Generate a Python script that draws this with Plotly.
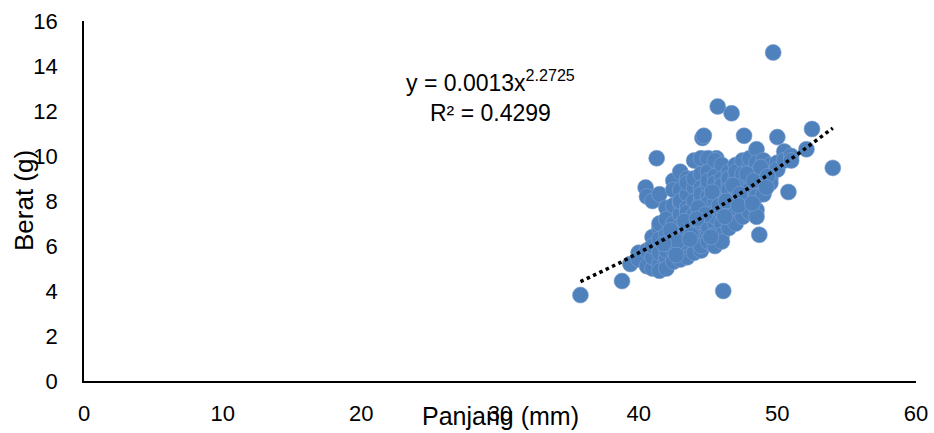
import plotly.graph_objects as go
import numpy as np

# Panjang (mm) and Berat (g)
panjang = [
    35.8, 38.8, 46.1, 49.7, 45.7, 46.7, 52.5, 54.0, 50.0, 47.6, 44.6, 44.7, 41.3, 50.8, 48.7, 39.4, 40.5, 45.6, 52.1,
    40.0, 40.0,
    40.6, 40.6, 40.6,
    41.0, 41.0, 41.0, 41.0, 41.0,
    41.5, 41.5, 41.5, 41.5, 41.5, 41.5, 41.5,
    42.0, 42.0, 42.0, 42.0, 42.0, 42.0, 42.0,
    42.5, 42.5, 42.5, 42.5, 42.5, 42.5, 42.5, 42.5,
    43.0, 43.0, 43.0, 43.0, 43.0, 43.0, 43.0, 43.0, 43.0,
    43.5, 43.5, 43.5, 43.5, 43.5, 43.5, 43.5, 43.5, 43.5,
    44.0, 44.0, 44.0, 44.0, 44.0, 44.0, 44.0, 44.0, 44.0,
    44.5, 44.5, 44.5, 44.5, 44.5, 44.5, 44.5, 44.5, 44.5, 44.5,
    45.0, 45.0, 45.0, 45.0, 45.0, 45.0, 45.0, 45.0, 45.0, 45.0, 45.0,
    45.5, 45.5, 45.5, 45.5, 45.5, 45.5, 45.5, 45.5, 45.5, 45.5,
    46.0, 46.0, 46.0, 46.0, 46.0, 46.0, 46.0, 46.0, 46.0, 46.0,
    46.5, 46.5, 46.5, 46.5, 46.5, 46.5, 46.5, 46.5,
    47.0, 47.0, 47.0, 47.0, 47.0, 47.0, 47.0,
    47.5, 47.5, 47.5, 47.5, 47.5, 47.5,
    48.0, 48.0, 48.0, 48.0, 48.0, 48.0,
    48.5, 48.5, 48.5, 48.5, 48.5, 48.5, 48.5,
    49.0, 49.0, 49.0, 49.0,
    49.5, 49.5, 49.5,
    50.0, 50.0,
    50.5, 50.5,
    51.0, 51.0,
    42.3, 42.8, 43.3, 43.8, 44.3, 44.8, 45.3, 45.8, 46.3, 46.8, 47.3, 47.8, 48.3, 48.8, 49.3,
    41.8, 42.7, 43.7, 44.2, 45.2, 46.2, 47.2, 48.2, 49.2,
]
berat = [
    3.82, 4.44, 4.0, 14.6, 12.2, 11.9, 11.2, 9.47, 10.84, 10.9, 10.8, 10.9, 9.9, 8.4, 6.5, 5.2, 8.6, 9.9, 10.3,
    5.7, 5.4,
    8.2, 5.8, 5.1,
    6.4, 5.0, 5.5, 6.0, 8.0,
    8.3, 6.8, 6.3, 5.2, 4.9, 5.7, 7.0,
    7.7, 7.2, 6.5, 6.0, 5.5, 5.0, 5.8,
    8.9, 7.8, 7.0, 6.4, 5.8, 5.3, 6.0, 8.5,
    9.3, 8.5, 7.9, 7.4, 6.9, 6.3, 5.7, 5.4, 8.0,
    9.0, 8.3, 7.7, 7.1, 6.6, 6.0, 5.5, 8.8, 7.5,
    9.8, 8.6, 8.0, 7.4, 6.8, 6.2, 5.7, 9.0, 7.0,
    9.9, 9.2, 8.6, 8.0, 7.5, 7.0, 6.4, 5.8, 8.3, 6.0,
    9.9, 9.3, 8.7, 8.2, 7.7, 7.2, 6.7, 6.2, 8.9, 7.9, 6.9,
    9.8, 9.1, 8.5, 8.0, 7.5, 7.0, 6.5, 6.0, 8.8, 7.3,
    9.6, 9.0, 8.5, 8.0, 7.5, 7.0, 6.5, 6.2, 8.7, 7.8,
    9.3, 8.8, 8.2, 7.7, 7.2, 6.8, 9.0, 8.5,
    9.6, 9.0, 8.5, 8.0, 7.5, 7.0, 9.3,
    9.8, 9.2, 8.7, 8.2, 7.7, 7.3,
    9.5, 9.0, 8.5, 8.0, 7.5, 9.9,
    10.3, 9.7, 9.2, 8.7, 8.2, 7.6, 7.3,
    9.8, 9.3, 8.8, 8.3,
    9.6, 9.0, 8.8,
    9.7, 9.4,
    10.2, 9.8,
    10.0, 9.8,
    6.7, 6.2, 7.1, 6.5, 7.7, 7.4, 8.4, 7.8, 8.0, 8.7, 8.3, 9.2, 8.9, 9.5, 9.1,
    6.1, 5.6, 6.3, 7.2, 6.4, 7.3, 7.8, 7.9, 8.6,
]

# Power trendline y = a * x^b
coef_a = 0.0013
coef_b = 2.2725
r2 = 0.4299

x_ticks = [0, 10, 20, 30, 40, 50, 60]
y_ticks = [0, 2, 4, 6, 8, 10, 12, 14, 16]

font_family = "Liberation Sans, Arial, sans-serif"

tx = np.linspace(min(panjang), max(panjang), 100)
ty = coef_a * tx ** coef_b

fig = go.Figure()
fig.add_trace(go.Scatter(
    x=panjang, y=berat, mode="markers",
    marker=dict(size=16, color="#4F81BD", line=dict(width=0.6, color="#7FA3D1")),
    showlegend=False, hoverinfo="x+y",
))
fig.add_trace(go.Scatter(
    x=tx, y=ty, mode="lines",
    line=dict(color="black", width=3.5, dash="3.5px,3.5px"),
    showlegend=False, hoverinfo="skip",
))

fig.update_layout(
    width=934, height=433,
    margin=dict(l=84, r=18, t=21, b=52),
    paper_bgcolor="white", plot_bgcolor="white",
    font=dict(family=font_family, size=22, color="black"),
    xaxis=dict(
        range=[0, 60], tickvals=x_ticks, showgrid=False, zeroline=False,
        showline=True, linecolor="black", linewidth=1.5, automargin=False,
        ticks="", ticklabelstandoff=12, tickfont=dict(size=22),
    ),
    yaxis=dict(
        range=[0, 16], tickvals=y_ticks, showgrid=False, zeroline=False,
        showline=True, linecolor="black", linewidth=1.5, automargin=False,
        ticks="", ticklabelstandoff=20, tickfont=dict(size=22),
    ),
    annotations=[
        dict(
            x=29.3, y=12.67, xref="x", yref="y",
            text=f"y = {coef_a}x<sup>{coef_b}</sup><br>R² = {r2}",
            showarrow=False, align="center", font=dict(size=23),
        ),
        dict(
            x=0.5, y=0, xref="paper", yref="paper", yshift=-19,
            text="Panjang (mm)", showarrow=False, font=dict(size=25),
            yanchor="top",
        ),
        dict(
            x=0, y=0.5, xref="paper", yref="paper", xshift=-60,
            text="Berat (g)", showarrow=False, font=dict(size=26),
            textangle=-90, xanchor="center",
        ),
    ],
)

fig.write_html("out.html")
